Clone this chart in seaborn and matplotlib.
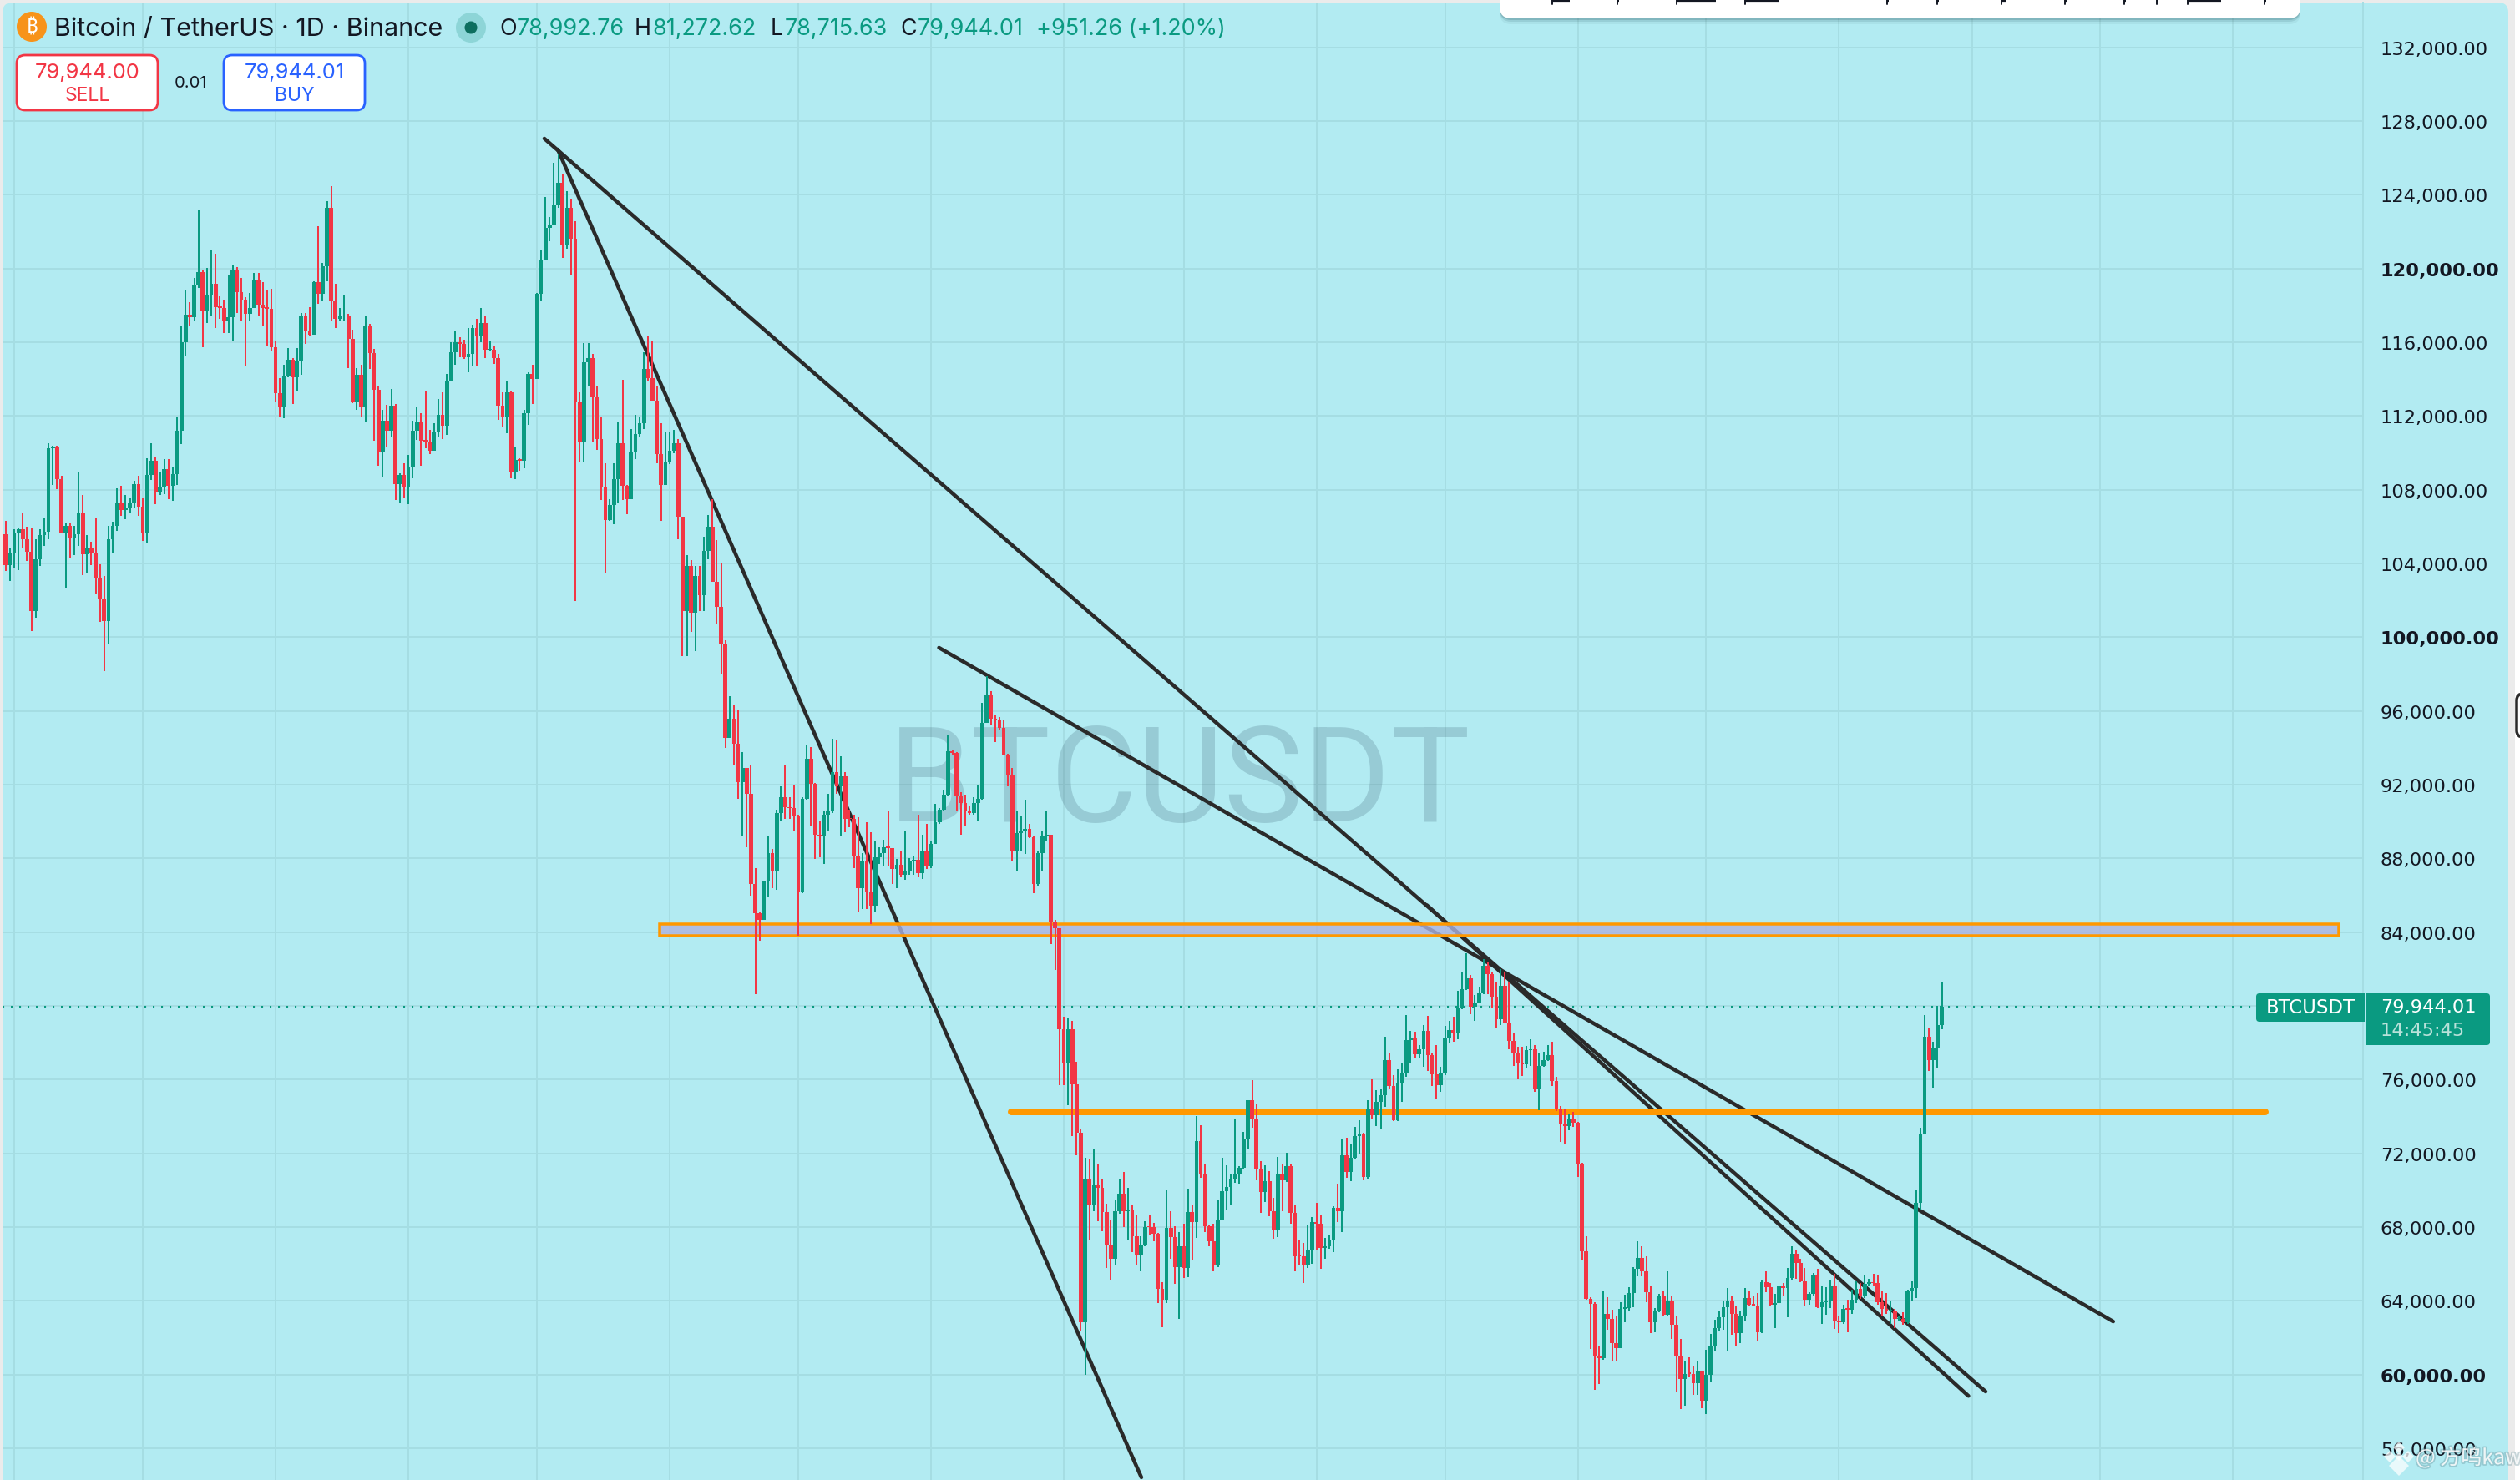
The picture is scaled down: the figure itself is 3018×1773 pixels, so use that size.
import numpy as np
import pandas as pd
import matplotlib
matplotlib.use("Agg")
import matplotlib.pyplot as plt
import matplotlib.dates as mdates
import matplotlib.patheffects as pe
from matplotlib.patches import Circle, FancyBboxPatch, Rectangle
import seaborn as sns

# daily candles, thousands of USDT
first_open = 105.70
last_day = "2026-08-25"

closes_a = [105.58,103.91,104.56,105.61,105.85,105.31,104.65,101.42,104.23,105.53,
105.70,110.24,110.28,108.59,105.61,106.03,105.36,105.58,106.74,104.50,
104.83,104.59,103.25,102.05,100.88,105.31,106.03,107.28,106.92,107.01,
107.25,108.32,107.10,105.63,108.81,109.56,107.91,108.14,109.13,108.23,
108.86,111.18,115.98,117.51,117.36,119.09,119.80,117.72,118.58,119.16,
117.90,117.87,117.20,117.36,119.93,118.71,118.31,117.56,117.87,119.39,
118.04,117.87,117.83,115.71,113.26,112.48,114.15,115.05,114.10,115.00,
117.45,116.61,116.43,119.26,118.64,120.14,123.30,118.26,117.29,117.40,
117.42,116.16,112.79,114.24,112.45,116.91,115.39,113.44,110.05,111.73,
111.21,112.54,108.31,108.79,108.18,109.20,111.19,111.71,110.65,110.62,
110.12,111.10,112.04,111.46,113.90,115.44,115.98,115.89,115.17,115.35,
116.77,116.38,117.04,115.57,115.60,115.14,112.57,111.95,113.29,108.95,
109.61,109.58,112.13,114.28,114.01,118.62,120.48,122.22,122.39,123.48,
124.65,121.31,123.30,121.63,112.72,110.58,114.91,115.14,112.99,110.73,
108.13,106.37,107.16,108.59,110.51,108.23,107.50,110.05,111.00,111.59,
114.55,114.06,112.84,109.94,108.27,109.52]
highs_a = [107.73,106.30,104.83,105.85,105.94,106.74,105.97,105.94,105.31,105.85,
106.44,110.51,110.37,110.37,108.77,106.17,106.21,106.03,108.93,107.73,
105.53,105.18,106.48,103.96,103.34,106.03,106.26,108.09,108.23,107.73,
107.55,108.48,108.75,107.52,109.70,110.51,109.74,108.93,109.65,109.65,
109.20,111.98,116.84,118.85,118.19,119.48,123.21,119.91,120.02,121.00,
120.79,118.49,118.31,119.66,120.23,120.07,119.48,118.44,118.67,119.75,
119.75,119.26,118.80,118.91,116.04,114.06,114.76,115.68,115.14,115.68,
117.58,117.60,117.90,119.32,122.30,120.32,123.66,124.47,119.16,117.87,
118.55,117.54,116.66,114.60,114.78,117.42,117.00,115.62,113.65,112.34,
112.61,113.47,112.63,108.90,109.44,109.87,111.73,112.52,112.13,113.38,
111.23,111.59,112.90,113.29,114.28,115.98,116.65,116.29,116.13,116.75,
116.93,117.27,117.87,117.45,116.07,115.77,115.35,113.29,113.92,113.38,
110.30,109.70,112.34,114.37,114.78,118.65,121.00,123.87,122.80,125.74,
126.20,125.10,124.18,123.78,122.57,113.29,115.95,115.95,115.35,113.60,
111.95,109.44,107.50,109.44,111.68,113.97,108.27,111.28,112.04,111.95,
115.44,116.38,116.04,113.60,111.59,111.14]
lows_a = [105.58,103.61,103.07,103.73,103.66,104.86,104.14,100.32,101.06,103.87,
104.95,105.31,108.27,108.04,105.61,102.65,104.27,104.45,104.95,103.37,
103.46,103.91,102.33,100.83,98.17,99.62,104.59,105.76,106.57,106.39,
106.78,107.01,106.57,105.22,105.09,108.54,107.23,107.73,107.77,107.50,
107.41,108.27,110.48,115.21,116.88,117.20,118.94,115.75,117.02,117.42,
116.79,117.27,116.48,116.52,116.11,117.60,117.11,114.73,117.15,117.87,
117.42,116.91,115.80,115.48,112.72,111.98,111.89,114.10,112.63,113.33,
114.24,115.89,116.31,116.43,118.08,118.22,119.30,117.15,116.79,117.20,
117.18,114.60,112.70,112.34,111.95,111.68,114.55,110.65,109.29,108.68,
110.33,110.83,107.43,107.32,107.55,107.23,108.63,110.69,109.29,110.24,
109.94,110.15,110.83,110.74,110.96,113.88,114.76,115.17,115.09,114.37,
114.73,114.69,115.98,115.12,115.50,114.82,111.80,111.41,111.05,108.63,
108.59,109.04,109.17,111.53,112.66,114.00,118.28,120.45,121.49,123.00,
123.30,120.56,121.06,119.66,101.96,109.52,109.52,113.60,110.60,110.15,
107.43,103.48,106.30,106.12,107.28,107.46,106.65,107.50,109.65,110.87,
111.28,113.87,112.81,109.44,106.30,108.27]

closes_b = [110.10,110.53,106.54,101.43,103.88,101.34,103.31,102.29,104.69,105.99,
103.02,101.63,99.64,94.55,95.56,94.20,92.12,92.90,91.51,86.60,
85.04,84.66,86.77,88.28,87.27,90.45,91.31,90.79,90.73,90.30,
86.20,91.23,93.40,92.04,89.29,89.20,90.36,90.59,92.67,91.89,
92.47,90.16,90.14,88.10,86.40,87.85,86.20,85.45,88.05,88.28,
88.62,88.58,87.41,87.64,87.12,87.30,87.85,87.93,87.18,88.42,
87.56,88.80,89.96,90.65,91.46,93.83,93.71,91.37,91.02,90.59,
90.45,91.02,91.23,95.36,96.89,95.56,95.50,95.07,93.63,92.53,
88.42,89.38,89.49,89.58,89.15,86.63,88.28,89.20,89.29,84.58,
84.23,78.72]
highs_b = [111.17,111.25,110.73,106.54,104.46,104.17,103.88,103.88,105.47,106.63,
107.50,105.27,104.03,99.84,96.80,96.37,96.02,93.77,92.90,93.10,
87.47,85.10,86.80,89.20,88.51,90.65,91.89,93.10,91.31,91.98,
90.36,91.31,94.12,94.06,92.10,90.00,90.60,91.50,94.49,94.40,
93.54,92.67,90.65,90.36,90.24,88.28,89.96,89.44,88.92,88.62,
89.00,90.54,88.50,87.99,88.40,89.49,88.00,88.15,90.36,89.29,
89.87,88.92,90.94,90.74,91.75,94.72,93.90,93.77,91.60,91.46,
90.88,91.31,91.95,96.43,97.87,97.09,95.79,95.65,95.50,93.68,
92.90,90.53,90.30,91.17,89.87,89.23,88.42,89.49,90.59,89.29,
84.66,84.23]
lows_b = [109.38,110.00,105.33,98.97,98.97,100.27,99.26,101.43,101.43,104.23,
103.02,100.76,97.96,94.00,94.55,93.05,91.23,89.20,88.62,85.97,
80.62,83.51,84.66,85.91,86.40,86.31,90.02,90.16,90.16,89.49,
83.80,86.11,91.17,89.72,87.99,88.05,87.70,89.45,90.45,91.51,
89.20,89.43,89.67,87.47,85.10,85.25,85.25,84.46,85.10,87.70,
87.57,87.57,86.60,86.40,86.97,86.86,87.12,87.12,86.97,86.90,
87.41,87.47,88.80,89.87,90.53,91.40,93.60,90.59,89.29,89.72,
90.36,90.36,90.07,91.17,95.36,95.21,94.29,94.93,93.63,91.89,
87.85,87.27,88.42,88.22,89.09,86.11,86.49,87.27,88.92,83.37,
81.95,75.72]

closes_c = [76.94,78.72,75.76,73.12,62.86,70.59,69.22,70.32,70.13,68.83,
67.02,66.28,68.84,69.80,68.88,68.91,67.49,66.45,67.00,68.01,
67.98,67.63,64.63,64.06,67.96,67.46,65.84,66.97,65.76,68.83,
68.27,72.66,70.90,68.06,67.23,65.93,68.41,69.95,70.18,70.56,
70.90,71.22,72.81,74.89,73.87,71.18,69.88,70.49,68.88,67.84,
70.90,70.52,71.30,68.79,66.42,66.40,65.98,66.76,68.27,68.18,
66.85,66.97,67.28,69.05,68.84,71.89,71.00,71.74,72.95,73.07,
70.70,74.37,74.08,74.80,75.17,77.06,75.67,73.78,75.84,76.33,
78.15,78.29,77.37,77.63,78.63,77.33,76.29,75.72,76.33,78.24,
78.70,78.55,79.88,80.92,81.48,79.97,80.18,80.70,82.19,81.70,
80.49,79.28,81.10,79.10,78.11,77.46,76.94,76.81,77.58,77.63,
75.50,76.73,77.06,77.33,75.93,74.37,73.59,73.47,73.90,73.64,
71.39,66.71,64.11,63.85,61.03,60.91,63.31,63.04,61.70,61.43,
63.58,63.62,64.44,65.73,66.32,65.61,64.48,62.86]
highs_c = [79.40,79.36,79.19,76.97,73.33,71.77,71.65,72.26,71.42,70.56,
69.26,68.39,69.43,70.56,70.99,70.13,69.22,68.70,67.49,68.31,
68.67,68.22,67.70,65.01,70.00,68.84,68.05,67.72,68.19,70.09,
69.22,74.02,73.52,71.39,68.15,68.19,69.48,71.77,71.34,70.84,
73.90,71.30,73.18,74.90,75.98,74.67,71.56,71.34,71.04,69.57,
71.79,71.39,72.03,71.42,69.17,67.28,67.15,68.15,68.53,69.31,
68.62,67.40,67.58,69.14,70.35,72.76,72.86,72.48,73.44,73.78,
73.12,74.89,76.02,75.43,75.51,78.32,77.40,76.24,76.54,76.94,
79.48,78.63,78.58,77.89,78.96,79.45,77.46,77.89,76.68,78.93,
79.19,79.41,80.80,81.79,82.86,81.67,80.61,81.04,82.53,82.36,
81.84,81.32,82.01,81.79,81.27,78.50,77.80,77.80,77.84,78.20,
77.89,77.40,77.51,77.89,78.06,76.16,74.56,74.42,74.13,74.25,
73.70,71.48,67.49,64.20,63.94,61.52,64.57,64.21,63.50,63.14,
63.94,64.35,64.75,65.82,67.25,66.95,66.42,64.78]
lows_c = [75.72,74.63,72.95,71.91,62.34,60.00,67.32,68.88,68.32,67.79,
65.76,65.15,65.90,68.74,68.01,67.28,66.62,65.90,65.62,66.97,
67.58,67.23,63.90,62.55,63.90,66.28,64.94,63.04,65.24,65.27,
66.19,67.40,70.65,67.75,66.94,65.62,65.84,68.39,68.96,69.19,
70.38,70.35,71.18,72.26,73.38,70.52,68.79,69.36,68.58,67.37,
67.44,68.88,70.44,68.18,65.58,65.93,64.98,65.79,66.02,66.76,
65.72,66.28,66.83,66.62,68.27,67.75,70.65,70.47,71.70,72.00,
70.52,70.58,73.82,73.50,73.33,74.51,75.46,73.76,73.73,74.80,
76.16,76.94,77.20,77.14,76.68,76.47,75.67,74.94,75.32,76.24,
77.98,78.06,78.20,79.80,80.87,79.54,79.19,80.14,80.63,80.63,
79.88,78.76,78.96,79.07,77.66,76.76,76.03,76.19,76.59,76.73,
75.34,74.34,76.68,77.02,75.67,74.28,72.60,72.52,73.24,73.42,
70.70,66.19,64.06,61.38,59.15,59.50,60.80,62.42,60.77,60.77,
61.43,62.86,63.46,63.67,65.34,65.34,63.94,62.27]

closes_d = [63.49,64.30,63.26,64.03,62.69,61.04,59.76,60.05,60.03,59.55,
60.23,58.60,60.00,61.56,62.54,63.10,63.64,64.00,63.31,62.27,
63.19,64.15,63.80,63.76,62.29,65.02,64.75,63.81,63.88,64.84,
64.71,65.23,66.54,66.05,65.05,64.07,64.39,65.37,63.67,63.94,
64.00,64.78,62.88,62.86,63.55,63.53,64.08,64.66,64.26,64.93,
64.98,64.96,63.94,63.55,63.46,63.49,63.01,63.04,62.83,64.51,
64.69,69.32,73.03,78.33,77.06,77.74,78.96,79.944]
highs_d = [63.63,64.39,64.57,65.61,64.24,63.22,61.93,60.75,60.93,60.50,
60.75,60.23,61.34,62.20,62.99,63.49,63.98,64.69,64.26,63.72,
63.49,64.69,64.51,64.30,64.42,65.11,65.61,64.96,64.39,64.85,
64.96,65.79,66.95,66.72,66.27,65.79,64.48,65.50,65.73,64.78,
64.75,65.14,65.46,63.17,63.81,64.05,64.60,65.05,64.98,65.37,
65.19,65.46,65.37,64.51,64.44,64.00,63.58,63.22,63.37,64.60,
65.05,70.00,73.40,79.51,78.81,78.06,80.01,81.27]
lows_d = [62.29,63.40,63.22,63.22,61.93,59.10,58.12,58.33,59.87,58.89,
58.89,58.17,57.85,59.59,61.25,62.33,62.42,61.30,62.15,61.52,
61.70,62.95,63.76,63.70,61.79,62.27,64.48,63.76,62.54,63.88,
64.30,63.13,65.16,65.19,65.02,63.76,63.81,64.30,63.62,62.74,
63.26,63.62,62.47,62.27,62.74,62.29,63.31,63.90,64.12,64.15,
64.78,64.78,63.81,63.22,63.31,62.77,62.54,62.92,62.72,62.77,
64.03,64.17,68.96,73.03,76.48,75.55,76.66,78.72]

# trend lines, start and end date / price
line_dates = [("2025-10-02 18:00", "2026-09-04 05:00"),
              ("2025-10-05 21:00", "2026-02-19 03:00"),
              ("2026-01-02 21:00", "2026-10-04 00:00"),
              ("2026-04-26 19:00", "2026-08-31 05:00")]
line_prices = [(127.05, 59.08), (126.46, 54.42), (99.43, 62.88), (85.46, 58.84)]

zone_dates = ("2025-10-29 16:00", "2026-11-25 16:00")
zone_prices = (83.80, 84.43)
level_dates = ("2026-01-19 17:00", "2026-11-08 12:00")
level_price = 74.25
last_price = 79.944

tick_prices = list(range(56, 133, 4))
bold_ticks = [60, 100, 120]

BG = "#b2ebf2"
GRID = "#a5dde3"
UP = "#0a9a81"
DOWN = "#f23645"
INK = "#2a2a2a"
ORANGE = "#ff9800"
PXPT = 0.72  # one pixel in points at dpi 100

closes = np.array(closes_a + closes_b + closes_c + closes_d)
highs = np.array(highs_a + highs_b + highs_c + highs_d)
lows = np.array(lows_a + lows_b + lows_c + lows_d)
assert len(closes) == len(highs) == len(lows), (len(closes), len(highs), len(lows))

opens = np.r_[first_open, closes[:-1]]
dates = pd.date_range(end=last_day, periods=len(closes), freq="D")
df = pd.DataFrame({"x": mdates.date2num(dates), "open": opens, "high": highs, "low": lows, "close": closes})
df["up"] = df["close"] >= df["open"]
df["high"] = df[["high", "open", "close"]].max(axis=1)
df["low"] = df[["low", "open", "close"]].min(axis=1)

sns.set_theme(style="whitegrid")
plt.rcParams["font.family"] = ["Inter", "DejaVu Sans"]

fig = plt.figure(figsize=(30.18, 17.74), dpi=100, facecolor="#ebebeb")

# panel behind everything
back = fig.add_axes([0, 0, 1, 1], zorder=0)
back.set_xlim(0, 3018)
back.set_ylim(1774, 0)
back.axis("off")
back.add_patch(FancyBboxPatch((3, 4), 3001, 1800, boxstyle="round,pad=0,rounding_size=12", fc=BG, ec="none"))
back.add_patch(Rectangle((3012, 0), 6, 1774, fc="white", ec="none"))

ax = fig.add_axes([3 / 3018, 0, 2827 / 3018, 1770 / 1774], zorder=1)
ax.set_facecolor("none")
x_jul = mdates.date2num(pd.Timestamp("2025-07-01"))
ax.set_xlim(x_jul + (3 - 171) / 5.13, x_jul + (2830 - 171) / 5.13)
ax.set_ylim(54.28, 134.43)

months = pd.date_range("2025-06-01", "2026-11-01", freq="MS")
ax.set_xticks(mdates.date2num(months))
ax.set_xticklabels([])
ax.set_yticks(tick_prices)
ax.set_yticklabels([f"{t * 1000:,.2f}" for t in tick_prices], fontsize=16.2, color="#131722", family="DejaVu Sans")
ax.yaxis.tick_right()
# the labels on the right side are label2 of each tick
for tick, t in zip(ax.yaxis.get_major_ticks(), tick_prices):
    if t in bold_ticks:
        tick.label2.set_fontweight("bold")
ax.tick_params(axis="both", length=0)
ax.tick_params(axis="y", pad=15)
ax.grid(True, color=GRID, linewidth=2 * PXPT)
ax.set_axisbelow(True)
for name, sp in ax.spines.items():
    sp.set_visible(name == "right")
    sp.set_color(GRID)
    sp.set_linewidth(2 * PXPT)

ax.text(mdates.date2num(pd.Timestamp("2026-01-01")) + 58, 92.05, "BTCUSDT", fontsize=115, color="#1f3f55",
        alpha=0.18, ha="center", va="center", family="Roboto", zorder=1.5)

ax.axhline(last_price, color=UP, linewidth=1.5, linestyle=(0, (1, 3.8)), zorder=1.6,
           xmax=(2700 - 3) / 2827)

for (start, end), (p0, p1) in zip(line_dates, line_prices):
    xs = mdates.date2num(pd.to_datetime([start, end]))
    sns.lineplot(x=xs, y=[p0, p1], ax=ax, color=INK, linewidth=4.5 * PXPT, estimator=None, sort=False, zorder=2)
ax.set_xlabel("")
ax.set_ylabel("")

zx = mdates.date2num(pd.to_datetime(list(zone_dates)))
ax.add_patch(Rectangle((zx[0], zone_prices[0]), zx[1] - zx[0], zone_prices[1] - zone_prices[0],
                       fc=(0.68, 0.70, 0.88, 0.8), ec=ORANGE, lw=3.5 * PXPT, zorder=3))
lx = mdates.date2num(pd.to_datetime(list(level_dates)))
sns.lineplot(x=lx, y=[level_price, level_price], ax=ax, color=ORANGE, linewidth=8 * PXPT,
             estimator=None, sort=False, zorder=3)

colors = np.where(df["up"], UP, DOWN)
ax.vlines(df["x"], df["low"], df["high"], colors=colors, linewidth=2 * PXPT, zorder=4)
body = np.maximum((df["close"] - df["open"]).abs(), 0.07)
ax.bar(df["x"], body, bottom=df[["open", "close"]].min(axis=1), width=0.92, color=colors, linewidth=0, zorder=4.1)

# everything that sits on top of the chart, in pixels
ui = fig.add_axes([0, 0, 1, 1], zorder=2)
ui.set_xlim(0, 3018)
ui.set_ylim(1774, 0)
ui.axis("off")

# cut off drawing toolbar
for off, a in [(7, 0.06), (4, 0.12), (2, 0.18)]:
    ui.add_patch(FancyBboxPatch((1796, -30), 959, 53 + off, boxstyle="round,pad=0,rounding_size=14",
                                fc="#1d4a55", ec="none", alpha=a))
ui.add_patch(FancyBboxPatch((1796, -30), 959, 53, boxstyle="round,pad=0,rounding_size=14", fc="white", ec="none"))
for x0, x1 in [(1859, 1880), (1937, 1939), (2008, 2055), (2090, 2130), (2260, 2262), (2320, 2322),
               (2397, 2403), (2473, 2475), (2544, 2546), (2583, 2585), (2620, 2660), (2712, 2714)]:
    ui.plot([x0, x1], [2, 2], color="#131722", lw=1.6, solid_capstyle="butt")
    ui.plot([x0, x0], [0, 6], color="#131722", lw=1.4)

# side handle at the right edge of the screenshot
ui.add_patch(FancyBboxPatch((3014, 832), 30, 52, boxstyle="round,pad=0,rounding_size=8", fc="white", ec=INK, lw=3.5 * PXPT))

# header
ui.add_patch(Circle((38, 33), 18, fc="#f7931a", ec="none"))
ui.text(38, 33, "₿", color="white", fontsize=17, ha="center", va="center", fontweight="bold",
        family=["Noto Sans", "Open Sans", "Roboto", "Lato", "Liberation Sans", "DejaVu Sans"])
ui.text(65, 35, "Bitcoin / TetherUS · 1D · Binance", fontsize=21.95, color="#131722", va="center")
ui.add_patch(Circle((564, 34), 18, fc="#0a8a78", alpha=0.22, ec="none"))
ui.add_patch(Circle((564, 34), 7.5, fc="#0d6e5e", ec="none"))
ohlc = [(598, 21, "O", "78,992.76"), (760, 21, "H", "81,272.62"), (923, 17, "L", "78,715.63"), (1078, 21, "C", "79,944.01")]
for x0, gap, key, val in ohlc:
    ui.text(x0, 35, key, fontsize=19.4, color="#131722", va="center")
    ui.text(x0 + gap, 35, val, fontsize=19.4, color=UP, va="center")
ui.text(1241, 35, "+951.26 (+1.20%)", fontsize=19.4, color=UP, va="center")

# sell and buy boxes
for x0, col, price, word in [(20, DOWN, "79,944.00", "SELL"), (268, "#2962ff", "79,944.01", "BUY")]:
    ui.add_patch(FancyBboxPatch((x0, 67), 169, 66, boxstyle="round,pad=0,rounding_size=10", fc="white", ec=col, lw=2))
    ui.text(x0 + 84.5, 87, price, fontsize=18.4, color=col, ha="center", va="center")
    ui.text(x0 + 84.5, 115, word, fontsize=16.5, color=col, ha="center", va="center")
ui.text(228, 100, "0.01", fontsize=14.5, color="#131722", ha="center", va="center")

# last price badges
ui.add_patch(FancyBboxPatch((2702, 1191), 140, 34, boxstyle="round,pad=0,rounding_size=4", fc=UP, ec="none"))
ui.add_patch(Rectangle((2832, 1185), 12, 45, fc=BG, ec="none"))
ui.add_patch(FancyBboxPatch((2834, 1191), 148, 62, boxstyle="round,pad=0,rounding_size=4", fc=UP, ec="none"))
ui.add_patch(Rectangle((2834, 1191), 8, 62, fc=UP, ec="none"))
ui.text(2767, 1208, "BTCUSDT", fontsize=16.4, color="white", ha="center", va="center", family="DejaVu Sans")
ui.text(2851, 1207, "79,944.01", fontsize=16.2, color="white", va="center", family="DejaVu Sans")
ui.text(2851, 1235, "14:45:45", fontsize=16.2, color="#b9e2da", va="center", family="DejaVu Sans")

# repost mark
shadow = [pe.withStroke(linewidth=2.5, foreground="#5f8a94", alpha=0.35)]
for mx, my, ms in [(2873, 1735, 9), (2862, 1746, 9), (2884, 1746, 9), (2873, 1746, 6), (2873, 1757, 15)]:
    ui.plot(mx, my, marker="D", ms=ms * PXPT * 1.1, color="white", alpha=0.72, mew=0)
ui.text(2893, 1748, "@ 方鸣kaw", fontsize=18, color="white", alpha=0.82, va="center",
        family=["Noto Sans CJK SC", "DejaVu Sans"], path_effects=shadow)

fig.savefig("out.png", dpi=100, facecolor=fig.get_facecolor())
